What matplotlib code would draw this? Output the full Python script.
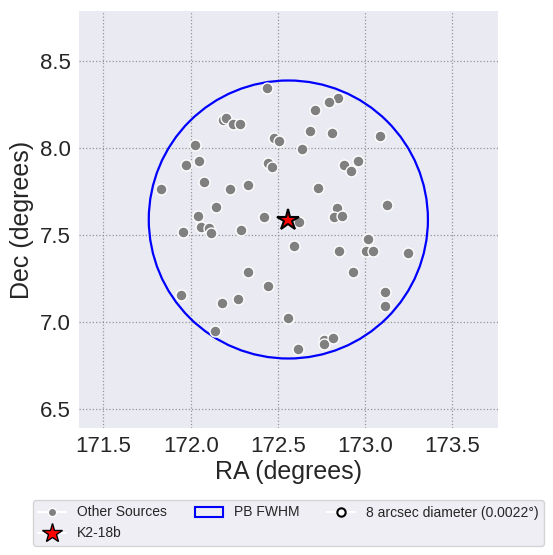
import matplotlib
matplotlib.use("Agg")
import matplotlib.pyplot as plt
from matplotlib.lines import Line2D
from matplotlib.patches import Circle, Patch
import seaborn as sns

sns.set_style("darkgrid")
plt.rcParams['font.family'] = ['Liberation Sans', 'DejaVu Sans']

# Target (K2-18b)
target_ra = 172.560
target_dec = 7.588

# Primary beam FWHM radius (degrees)
pb_radius = 0.8

# Other sources
src_ra = [172.437, 172.185, 172.202, 172.242, 172.285, 172.477, 172.506, 172.025,
          171.973, 172.048, 172.443, 172.466, 171.828, 172.076, 172.225, 172.328,
          172.143, 172.042, 172.418, 172.844, 172.793, 172.712, 172.684, 172.808,
          173.085, 172.638, 172.959, 172.879, 172.919, 172.730, 173.125, 172.838,
          172.821, 172.867, 171.956, 172.059, 172.105, 172.119, 172.288, 172.592,
          172.328, 172.443, 171.944, 172.179, 172.271, 172.558, 172.139, 172.621,
          172.850, 173.016, 173.007, 173.045, 173.245, 172.930, 173.113, 173.113,
          172.764, 172.764, 172.815, 172.615]
src_dec = [8.345, 8.162, 8.172, 8.138, 8.138, 8.057, 8.041, 8.018,
           7.903, 7.925, 7.913, 7.890, 7.763, 7.804, 7.763, 7.788,
           7.661, 7.608, 7.600, 8.287, 8.264, 8.220, 8.099, 8.086,
           8.070, 7.995, 7.925, 7.903, 7.867, 7.769, 7.673, 7.654,
           7.600, 7.609, 7.516, 7.544, 7.539, 7.510, 7.529, 7.433,
           7.285, 7.206, 7.154, 7.107, 7.131, 7.020, 6.945, 7.573,
           7.408, 7.475, 7.408, 7.408, 7.395, 7.285, 7.170, 7.091,
           6.895, 6.870, 6.905, 6.842]

half_width = 1.2

fig = plt.figure(figsize=(5.53, 5.55), dpi=100)
ax = fig.add_axes([79/553, 1-428/555, 418.7/553, 417/555])
ax.set_facecolor('#EAEAF2')

ax.scatter(src_ra, src_dec, s=62, color='gray', edgecolor='white', linewidth=1, zorder=3)
ax.add_patch(Circle((target_ra, target_dec), pb_radius, fill=False, edgecolor='blue',
                    linewidth=1.6, zorder=2))
ax.plot([target_ra], [target_dec], marker='*', markersize=16, color='red',
        markeredgecolor='black', markeredgewidth=1.5, linestyle='none', zorder=4)

ax.set_xlim(target_ra - half_width, target_ra + half_width)
ax.set_ylim(target_dec - half_width, target_dec + half_width)
ax.set_xticks([171.5, 172.0, 172.5, 173.0, 173.5])
ax.set_yticks([6.5, 7.0, 7.5, 8.0, 8.5])
ax.grid(True, color='gray', linestyle=':', linewidth=0.9, alpha=0.8)
for s in ax.spines.values():
    s.set_visible(False)
ax.tick_params(labelsize=16, length=0, pad=6)
ax.set_xlabel('RA (degrees)', fontsize=18, labelpad=2)
ax.set_ylabel('Dec (degrees)', fontsize=18, labelpad=4)

handles = [
    Line2D([0], [0], marker='o', color='w', markerfacecolor='gray', markersize=6, label='Other Sources'),
    Line2D([0], [0], marker='*', color='w', markerfacecolor='red', markeredgecolor='black',
           markersize=15, label='K2-18b'),
    Patch(facecolor='none', edgecolor='blue', linewidth=1.5, label='PB FWHM'),
    Line2D([0], [0], marker='o', color='w', markerfacecolor='white', markeredgecolor='black',
           markersize=6, markeredgewidth=1.5, label='8 arcsec diameter (0.0022°)'),
]
fig.legend(handles=handles, loc='upper center', bbox_to_anchor=(288.5/553, 1-493/555),
           ncol=3, fontsize=10, frameon=True, facecolor='#EAEAF2', edgecolor='#CCCCCC',
           columnspacing=2.0)

fig.savefig('out.png', dpi=100)
